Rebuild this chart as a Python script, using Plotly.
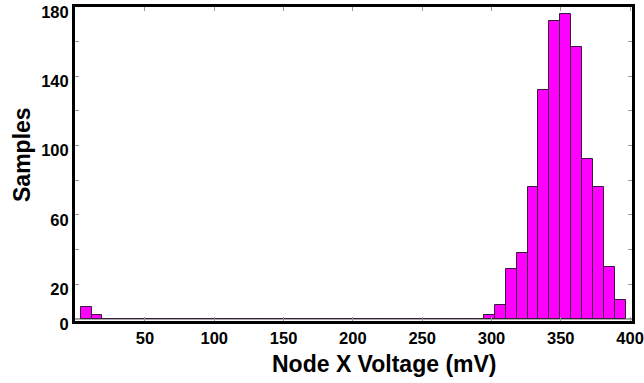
import plotly.graph_objects as go

# Histogram data: 50 equal bins
bin_start_mV = 3.6
bin_width_mV = 7.865
counts = [7, 2] + [0] * 35 + [2, 8, 29, 38, 76, 132, 172, 176, 157, 92, 76, 30, 11]

x_tick_vals = [50, 100, 150, 200, 250, 300, 350, 400]
y_tick_vals = [0, 20, 40, 60, 80, 100, 120, 140, 160, 180]
y_tick_text = ["0", "20", "", "60", "", "100", "", "140", "", "180"]

centers = [bin_start_mV + bin_width_mV * (i + 0.5) for i in range(len(counts))]

fig = go.Figure()
fig.add_trace(go.Bar(
    x=centers, y=counts, width=bin_width_mV,
    marker=dict(color="#FF00FF", line=dict(color="#3a1a3a", width=1)),
    showlegend=False,
))

W, H = 644, 383
font = "Liberation Sans, Arial, sans-serif"
L, R, T, B = 75, 12, 7, 62
fig.update_layout(
    width=W, height=H,
    margin=dict(l=L, r=R, t=T, b=B, autoexpand=False),
    paper_bgcolor="white", plot_bgcolor="white",
    bargap=0,
    xaxis=dict(
        range=[-0.5, 401.4], tickvals=x_tick_vals, automargin=False,
        ticks="inside", ticklen=4, tickwidth=1, tickcolor="#999999",
        showline=True, linecolor="black", linewidth=3, mirror="allticks",
        showgrid=False, zeroline=False, ticklabeloverflow="allow",
        tickfont=dict(family=font, size=16.5, color="black", weight="bold"),
    ),
    yaxis=dict(
        range=[-1.2, 180], tickvals=y_tick_vals, ticktext=y_tick_text, automargin=False,
        ticks="inside", ticklen=4, tickwidth=1, tickcolor="#999999",
        showline=True, linecolor="black", linewidth=3, mirror="allticks",
        showgrid=False, zeroline=True, zerolinecolor="#aaaaaa", zerolinewidth=1.5,
        ticklabeloverflow="allow", ticklabelshift=5,
        tickfont=dict(family=font, size=16.5, color="black", weight="bold"),
    ),
)
pw, ph = W - L - R, H - T - B
def px(xp):
    return (xp - L) / pw
def py(yp):
    return 1 - (yp - T) / ph
fig.update_layout(annotations=[
    dict(text="Node X Voltage (mV)", x=px(384), y=py(364),
         xref="paper", yref="paper", xanchor="center", yanchor="middle",
         showarrow=False, font=dict(family=font, size=23, color="black", weight="bold")),
    dict(text="Samples", x=px(22), y=py(155), textangle=-90,
         xref="paper", yref="paper", xanchor="center", yanchor="middle",
         showarrow=False, font=dict(family=font, size=23, color="black", weight="bold")),
])

fig.write_html("out.html", config={"displayModeBar": False},
               post_script="document.body.style.margin='0';")
